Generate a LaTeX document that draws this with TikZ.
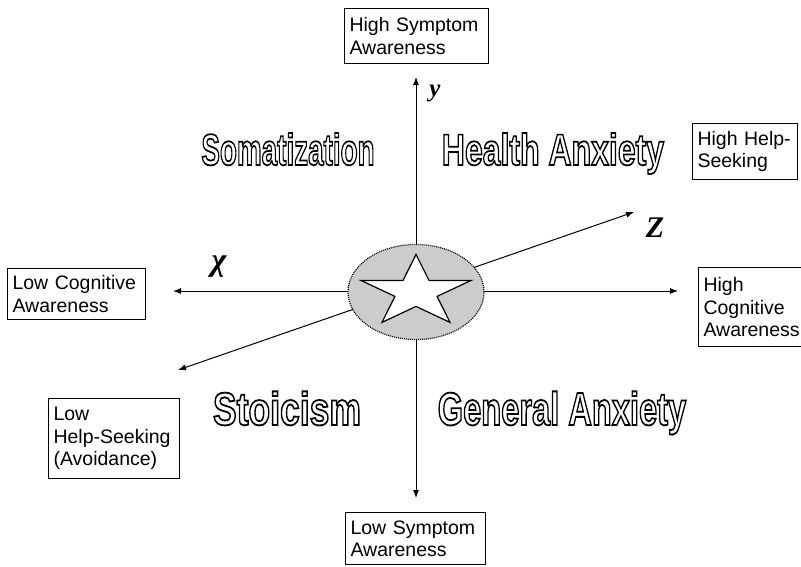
\documentclass[tikz,border=0pt]{standalone}
\usepackage{fontspec}
\setmainfont{Liberation Sans}
\newfontfamily\labserif{Liberation Serif}
\usetikzlibrary{shapes.geometric,arrows.meta}
\makeatletter
\newcommand\hollowword[1]{\pgfsys@invoke{1 Tr 1.25 w 0 G}#1\pgfsys@invoke{0 Tr}}
\makeatother
\tikzset{
  lbl/.style={draw, line width=1.1pt, align=left, anchor=north west, inner xsep=5pt, inner ysep=3pt,
    font=\fontsize{19.5}{22.5}\selectfont},
  ax/.style={line width=1pt, {Latex[length=8pt,width=6pt]}-{Latex[length=8pt,width=6pt]}},
  word/.style={anchor=base, inner sep=0pt, font=\fontsize{32}{36}\selectfont\bfseries},
  axlab/.style={inner sep=0pt},
}
\begin{document}
\begin{tikzpicture}[x=1pt,y=-1pt]
\useasboundingbox (0,0) rectangle (801,566);
% axis end points
\coordinate (ytop) at (416,77);
\coordinate (ybot) at (416,498);
\coordinate (xl) at (173,291);
\coordinate (xr) at (678,291);
\coordinate (zl) at (178,370);
\coordinate (zr) at (634,212);
\draw[ax] (ybot) -- (ytop);
\draw[ax] (xl) -- (xr);
\draw[ax] (zl) -- (zr);
% centre ellipse and star
\node[ellipse, draw, fill=gray!40, line width=1.2pt, dash pattern=on 1pt off 1pt,
      minimum width=136pt, minimum height=95pt, inner sep=0pt] (c) at (416,292) {};
\draw[fill=white, line width=1.2pt, line join=miter]
  (416,254.4) -- (429,280.4) -- (471.1,280.4) -- (437.1,296.4) -- (450,322.4)
  -- (416,306.4) -- (382,322.4) -- (394.9,296.4) -- (360.9,280.4) -- (403,280.4) -- cycle;
% boxes
\node[lbl, text width=134pt, minimum height=55pt] (hs) at (344,8) {High Symptom\\Awareness};
\node[lbl, text width=95pt, minimum height=56pt] (hh) at (692,123) {High Help-\\Seeking};
\node[lbl, text width=128pt, minimum height=51pt] (lc) at (7,268) {Low Cognitive\\Awareness};
\node[lbl, text width=110pt, minimum height=79pt] (hc) at (698,267) {High\\Cognitive\\Awareness};
\node[lbl, text width=121pt, minimum height=80pt] (lh) at (48,398) {Low\\Help-Seeking\\(Avoidance)};
\node[lbl, text width=130pt, minimum height=52pt] (ls) at (345,512) {Low Symptom\\Awareness};
% axis letters
\node[axlab, font=\labserif\fontsize{25}{27}\selectfont\bfseries\itshape] (ylab) at (435,93) {y};
\node[axlab, font=\labserif\fontsize{32}{34}\selectfont\bfseries\itshape] (xlab) at (219,267) {χ};
\node[axlab, font=\labserif\fontsize{30}{32}\selectfont\bfseries\itshape] (zlab) at (655,228) {Z};
% quadrant words (hollow letters)
\node[word] (som) at (288,165) {\scalebox{0.87}[1.38]{\hollowword{Somatization}}};
\node[word] (ha) at (553,165) {\scalebox{1}[1.38]{\hollowword{Health Anxiety}}};
\node[word] (sto) at (287,425) {\scalebox{1.11}[1.45]{\hollowword{Stoicism}}};
\node[word] (ga) at (562,425) {\scalebox{1.02}[1.45]{\hollowword{General Anxiety}}};
\end{tikzpicture}
\end{document}
